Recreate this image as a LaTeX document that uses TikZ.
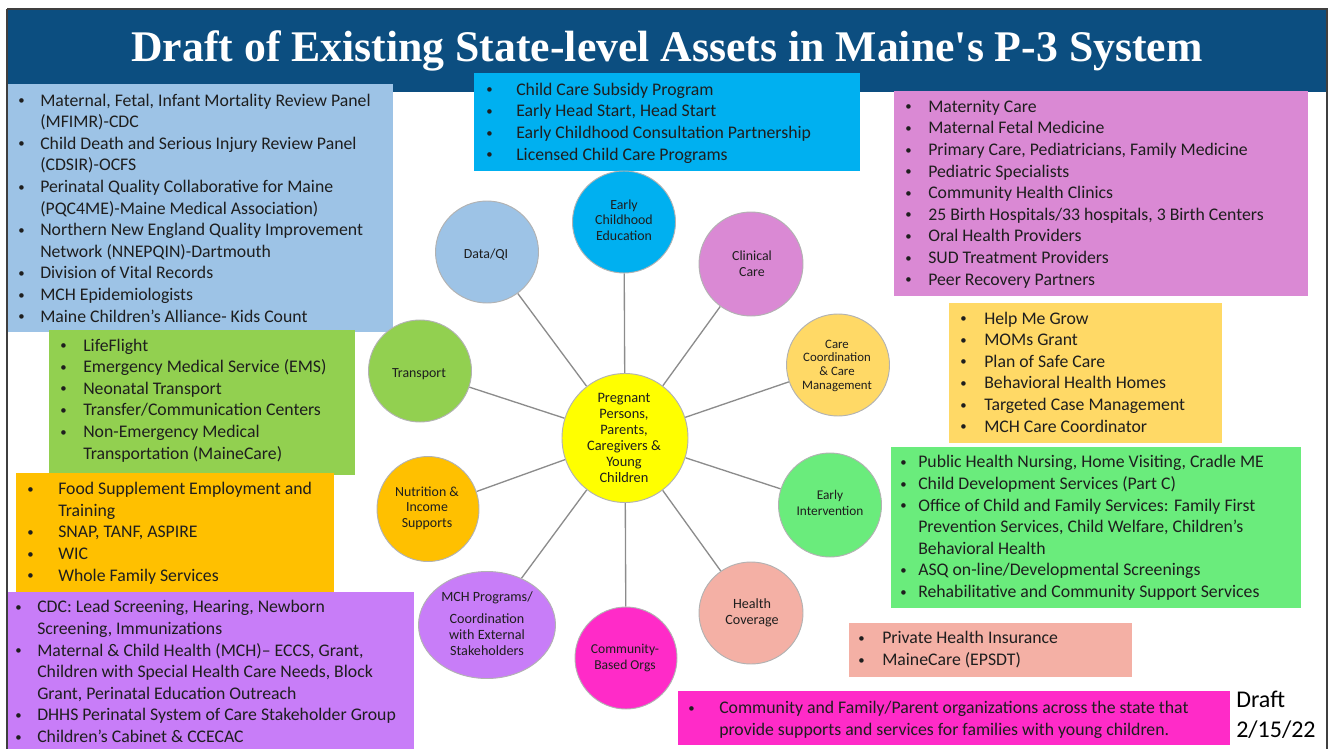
\documentclass[tikz,border=0pt]{standalone}
\usepackage{fontspec}
\setmainfont{Carlito}
\newfontfamily\titleserif{Liberation Serif}
\usetikzlibrary{shapes.geometric,backgrounds}

\definecolor{bandblue}{HTML}{0C4E80}
\definecolor{skyblue}{HTML}{9DC3E6}
\definecolor{cyanbox}{HTML}{00B0F0}
\definecolor{orchid}{HTML}{DA89D4}
\definecolor{gold}{HTML}{FFD966}
\definecolor{mint}{HTML}{6AEC7C}
\definecolor{salmon}{HTML}{F4B0A5}
\definecolor{hotpink}{HTML}{FF2BC8}
\definecolor{leaf}{HTML}{92D050}
\definecolor{amber}{HTML}{FFC000}
\definecolor{violet}{HTML}{C87DF8}
\definecolor{hubyellow}{HTML}{FFFF00}
\definecolor{textdark}{HTML}{1E1E1E}
\definecolor{framegray}{HTML}{3F3F3F}

\newcommand{\listfont}{\fontsize{13.3}{16.2}\selectfont}
\newcommand{\bubfont}{\fontsize{10.4}{11.5}\selectfont}
\newcommand{\bitem}[2]{\llap{\makebox[#1][l]{\raisebox{0.15ex}{\scalebox{0.72}{\textbullet}}}}#2}

\begin{document}
\begin{tikzpicture}[x=0.75pt,y=0.75pt,yscale=-1,xscale=1,
  bubble/.style={ellipse,draw=black!30,line width=0.7pt,inner sep=0pt},
  spoke/.style={draw=black!45,line width=1pt},
  bubtext/.style={anchor=base,align=center,inner sep=0pt,text=textdark,font=\bubfont},
  listtext/.style={anchor=base west,align=left,inner sep=0pt,text=textdark,font=\listfont}]
\useasboundingbox (0,0) rectangle (1331,749);
\clip (0,0) rectangle (1331,749);
% text nodes sit on the baseline of their last line

%Shape: Rectangle
\fill [bandblue] (7,9) rectangle (1327,92);
% Text Node
\node [anchor=base,inner sep=0pt,text=white,font=\titleserif\bfseries\fontsize{32.8}{36}\selectfont] (title) at (667,62) {Draft of Existing State-level Assets in Maine's P-3 System};

%Shape: Rectangle
\fill [skyblue] (7,84) rectangle (393,332);
% Text Node
\node [listtext] (datalist) at (40,322) {\bitem{16.5pt}{Maternal, Fetal, Infant Mortality Review Panel}\\(MFIMR)-CDC\\\bitem{16.5pt}{Child Death and Serious Injury Review Panel}\\(CDSIR)-OCFS\\\bitem{16.5pt}{Perinatal Quality Collaborative for Maine}\\(PQC4ME)-Maine Medical Association)\\\bitem{16.5pt}{Northern New England Quality Improvement}\\Network (NNEPQIN)-Dartmouth\\\bitem{16.5pt}{Division of Vital Records}\\\bitem{16.5pt}{MCH Epidemiologists}\\\bitem{16.5pt}{Maine Children’s Alliance- Kids Count}};

%Shape: Rectangle
\fill [cyanbox] (474,73) rectangle (860,171);
% Text Node
\node [listtext] (educlist) at (516,160) {\bitem{22.5pt}{Child Care Subsidy Program}\\\bitem{22.5pt}{Early Head Start, Head Start}\\\bitem{22.5pt}{Early Childhood Consultation Partnership}\\\bitem{22.5pt}{Licensed Child Care Programs}};

%Shape: Rectangle
\fill [orchid] (894,91) rectangle (1308,296);
% Text Node
\node [listtext] (careList) at (928,285) {\bitem{17.25pt}{Maternity Care}\\\bitem{17.25pt}{Maternal Fetal Medicine}\\\bitem{17.25pt}{Primary Care, Pediatricians, Family Medicine}\\\bitem{17.25pt}{Pediatric Specialists}\\\bitem{17.25pt}{Community Health Clinics}\\\bitem{17.25pt}{25 Birth Hospitals/33 hospitals, 3 Birth Centers}\\\bitem{17.25pt}{Oral Health Providers}\\\bitem{17.25pt}{SUD Treatment Providers}\\\bitem{17.25pt}{Peer Recovery Partners}};

%Shape: Rectangle
\fill [gold] (949,303) rectangle (1222,443);
% Text Node
\node [listtext] (coordlist) at (984,432) {\bitem{18pt}{Help Me Grow}\\\bitem{18pt}{MOMs Grant}\\\bitem{18pt}{Plan of Safe Care}\\\bitem{18pt}{Behavioral Health Homes}\\\bitem{18pt}{Targeted Case Management}\\\bitem{18pt}{MCH Care Coordinator}};

%Shape: Rectangle
\fill [mint] (891,447) rectangle (1301,608);
% Text Node
\node [listtext] (eilist) at (918,597.5) {\bitem{13.5pt}{Public Health Nursing, Home Visiting, Cradle ME}\\\bitem{13.5pt}{Child Development Services (Part C)}\\\bitem{13.5pt}{Office of Child and Family Services: Family First}\\Prevention Services, Child Welfare, Children’s\\Behavioral Health\\\bitem{13.5pt}{ASQ on-line/Developmental Screenings}\\\bitem{13.5pt}{Rehabilitative and Community Support Services}};

%Shape: Rectangle
\fill [salmon] (849,623) rectangle (1132,677);
% Text Node
\node [listtext] (coverlist) at (882,665.5) {\bitem{18pt}{Private Health Insurance}\\\bitem{18pt}{MaineCare (EPSDT)}};

%Shape: Rectangle
\fill [hotpink] (678,691) rectangle (1230,745);
% Text Node
\node [listtext] (orgslist) at (719,735) {\bitem{23.25pt}{Community and Family/Parent organizations across the state that}\\provide supports and services for families with young children.};

% Text Node
\node [anchor=base west,align=left,inner sep=0pt,text=black,font=\fontsize{18}{22.5}\selectfont] (draftdate) at (1236,737) {Draft\\2/15/22};

%Shape: Rectangle
\fill [leaf] (49,330) rectangle (355,475);
% Text Node
\node [listtext] (translist) at (83,459) {\bitem{17.25pt}{LifeFlight}\\\bitem{17.25pt}{Emergency Medical Service (EMS)}\\\bitem{17.25pt}{Neonatal Transport}\\\bitem{17.25pt}{Transfer/Communication Centers}\\\bitem{17.25pt}{Non-Emergency Medical}\\Transportation (MaineCare)};

%Shape: Rectangle
\fill [amber] (16,473) rectangle (334,592);
% Text Node
\node [listtext] (foodlist) at (58,581) {\bitem{23.25pt}{Food Supplement Employment and}\\Training\\\bitem{23.25pt}{SNAP, TANF, ASPIRE}\\\bitem{23.25pt}{WIC}\\\bitem{23.25pt}{Whole Family Services}};

%Shape: Rectangle
\fill [violet] (8,592) rectangle (414,752);
% Text Node
\node [listtext] (mchlist) at (37,742.5) {\bitem{16.5pt}{CDC: Lead Screening, Hearing, Newborn}\\Screening, Immunizations\\\bitem{16.5pt}{Maternal \& Child Health (MCH)– ECCS, Grant,}\\Children with Special Health Care Needs, Block\\Grant, Perinatal Education Outreach\\\bitem{16.5pt}{DHHS Perinatal System of Care Stakeholder Group}\\\bitem{16.5pt}{Children’s Cabinet \& CCECAC}};

%Shape: Circle
\node [bubble,fill=hubyellow,minimum width=94.5pt,minimum height=96.75pt] (hub) at (625,438) {};
\node [bubble,fill=skyblue,minimum width=77.25pt,minimum height=76.5pt] (dataqi) at (487,252) {};
\node [bubble,fill=cyanbox,minimum width=77.25pt,minimum height=76.5pt] (earlyed) at (624,222) {};
\node [bubble,fill=orchid,minimum width=78pt,minimum height=78pt] (clinical) at (751,264) {};
\node [bubble,fill=gold,minimum width=77.25pt,minimum height=76.5pt] (carecoord) at (838,365) {};
\node [bubble,fill=leaf,minimum width=77.25pt,minimum height=76.5pt] (transport) at (420,371) {};
\node [bubble,fill=amber,minimum width=76.5pt,minimum height=78.75pt] (nutrition) at (428,509) {};
\node [bubble,fill=violet,minimum width=102.75pt,minimum height=80.25pt] (mchprog) at (487,625) {};
\node [bubble,fill=hotpink,minimum width=76.5pt,minimum height=76.5pt] (community) at (626,658) {};
\node [bubble,fill=salmon,minimum width=78pt,minimum height=76.5pt] (coverage) at (751,613) {};
\node [bubble,fill=mint,minimum width=77.25pt,minimum height=78pt] (earlyint) at (830,505) {};

%Straight Lines
\begin{scope}[on background layer]
\foreach \spot in {dataqi,earlyed,clinical,carecoord,transport,nutrition,mchprog,community,coverage,earlyint}
  \draw [spoke] (hub) -- (\spot);
\end{scope}

% Text Node
\node [bubtext,font=\fontsize{10.8}{12}\selectfont] (hubtext) at (624,482) {Pregnant\\Persons,\\Parents,\\Caregivers \&\\Young\\Children};
\node [bubtext] (dataqitext) at (486,258) {Data/QI};
\node [bubtext] (earlyedtext) at (624,240) {Early\\Childhood\\Education};
\node [bubtext,font=\fontsize{10.4}{12}\selectfont] (clinicaltext) at (752,276) {Clinical\\Care};
\node [bubtext,font=\fontsize{9.6}{10.2}\selectfont] (carecoordtext) at (837,389) {Care\\Coordination\\\& Care\\Management};
\node [bubtext] (transporttext) at (419,377) {Transport};
\node [bubtext] (nutritiontext) at (427,527) {Nutrition \&\\Income\\Supports};
\node [bubtext,font=\fontsize{10.6}{12}\selectfont] (mchprogtext) at (487,655) {MCH Programs/\\[4pt]Coordination\\with External\\Stakeholders};
\node [bubtext,font=\fontsize{10.2}{12}\selectfont] (communitytext) at (625,669) {Community-\\Based Orgs};
\node [bubtext,font=\fontsize{10.6}{12}\selectfont] (coveragetext) at (752,624) {Health\\Coverage};
\node [bubtext,font=\fontsize{10}{11.3}\selectfont] (earlyinttext) at (830,515) {Early\\Intervention};

%Shape: Rectangle
\draw [framegray,line width=1.5pt] (7,9) -- (1327,9) -- (1327,760) (7,9) -- (7,760);
\end{tikzpicture}
\end{document}
